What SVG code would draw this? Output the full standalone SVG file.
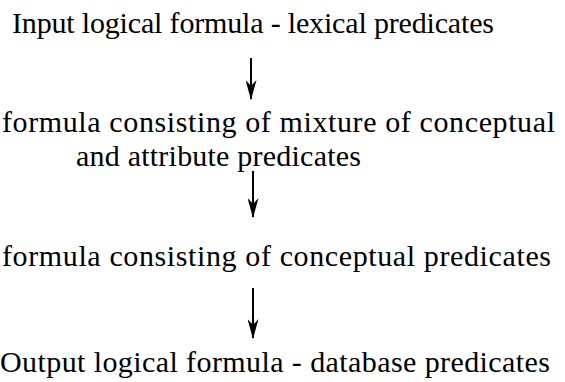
<svg xmlns="http://www.w3.org/2000/svg" width="565" height="382" viewBox="0 0 565 382">
<style>
text{font-family:"Liberation Serif","Times New Roman",serif;font-size:30px;fill:#000}
.c{stroke:#000;stroke-width:2;fill:none}
</style>
<defs>
<marker id="ah" markerWidth="20" markerHeight="11" refX="19" refY="5.5" orient="auto" markerUnits="userSpaceOnUse" viewBox="0 0 20 11">
<path d="M0,0 L6,5.5 L0,11 L20,5.5 Z" fill="#000"/>
</marker>
</defs>
<rect width="565" height="382" fill="#fff"/>
<g id="n1"><text x="12" y="33" textLength="482" lengthAdjust="spacing">Input logical formula - lexical predicates</text></g>
<g id="n2"><text x="2" y="132" textLength="553" lengthAdjust="spacing">formula consisting of mixture of conceptual</text><text x="76" y="166" textLength="285" lengthAdjust="spacing">and attribute predicates</text></g>
<g id="n3"><text x="2" y="266" textLength="549" lengthAdjust="spacing">formula consisting of conceptual predicates</text></g>
<g id="n4"><text x="0" y="372" textLength="550" lengthAdjust="spacing">Output logical formula - database predicates</text></g>
<g id="connectors">
<line class="c" x1="251" y1="58" x2="251" y2="99" marker-end="url(#ah)"/>
<line class="c" x1="253" y1="171" x2="253" y2="217" marker-end="url(#ah)"/>
<line class="c" x1="253" y1="288" x2="253" y2="338" marker-end="url(#ah)"/>
</g>
</svg>
